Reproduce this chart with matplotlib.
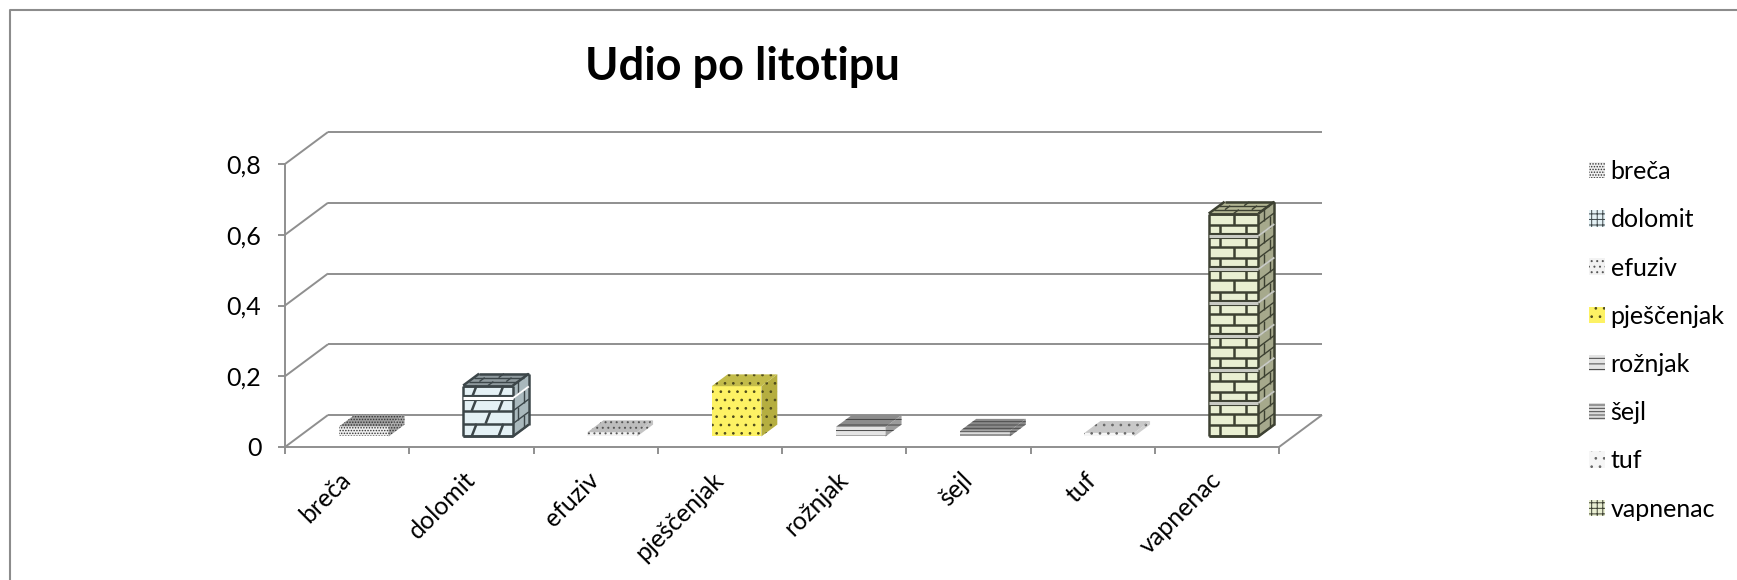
import matplotlib
matplotlib.use('Agg')
import matplotlib.pyplot as plt
from matplotlib.lines import Line2D
from matplotlib.patches import Patch, Polygon
from matplotlib.transforms import ScaledTranslation

plt.rcParams['font.family'] = ['Lato', 'DejaVu Sans']
plt.rcParams['hatch.linewidth'] = 0.7

categories = ['breča', 'dolomit', 'efuziv', 'pješčenjak', 'rožnjak', 'šejl', 'tuf', 'vapnenac']
values = [0.028, 0.144, 0.012, 0.142, 0.027, 0.016, 0.010, 0.63]
y_ticks = [0, 0.2, 0.4, 0.6, 0.8]
y_labels = ['0', '0,2', '0,4', '0,6', '0,8']
title = 'Udio po litotipu'

# front, side, top, line colour, hatch
styles = {
    'breča': ('#f0f0f0', '#a8a8a8', '#a0a0a0', '#333333', '......'),
    'dolomit': ('#e4f1f5', '#a9b8bc', '#8f9a9e', '#3c4649', None),
    'efuziv': ('#f2f2f2', '#c4c4c4', '#bdbdbd', '#555555', '...'),
    'pješčenjak': ('#fdf264', '#b5ae40', '#c2bb4a', '#4d4a1c', '..'),
    'rožnjak': ('#e4e4e4', '#9c9c9c', '#8c8c8c', '#444444', '---'),
    'šejl': ('#dcdcdc', '#8c8c8c', '#8a8a8a', '#4a4a4a', '-----'),
    'tuf': ('#f6f6f6', '#cfcfcf', '#c8c8c8', '#666666', '..'),
    'vapnenac': ('#e9efd2', '#a6a98c', '#b4b794', '#3d4132', None),
}

W, H = 1737, 580
AX_LEFT, AX_RIGHT, AX_TOP, AX_BOTTOM = 285, 1279, 164, 447
DX = 43 / 124.25   # depth offset, in categories
DY = 32 / 283 * 0.8   # depth offset, in value units
BAR_W = 0.40
D0, D1 = 0.33, 0.70   # bar depth range
ROW = 0.032   # brick row height
GREY = '#8f8f8f'

fig = plt.figure(figsize=(W / 100, H / 100), dpi=100)
ax = fig.add_axes([AX_LEFT / W, 1 - AX_BOTTOM / H, (AX_RIGHT - AX_LEFT) / W, (AX_BOTTOM - AX_TOP) / H])
ax.set_xlim(0, len(categories))
ax.set_ylim(0, 0.8)
ax.patch.set_alpha(0)


def proj(x, v, d):
    # oblique projection: depth d from 0 (front) to 1 (back wall)
    return x + d * DX, v + d * DY


def face(pts, color, z, hatch=None, edge=None):
    ax.add_patch(Polygon([proj(*p) for p in pts], closed=True, facecolor=color, hatch=hatch,
                         edgecolor=edge if hatch else color, linewidth=0, zorder=z, clip_on=False))


def seg(a, b, color, lw, z):
    pa, pb = proj(*a), proj(*b)
    ax.plot([pa[0], pb[0]], [pa[1], pb[1]], color=color, lw=lw, zorder=z, clip_on=False,
            solid_capstyle='butt')


def bricks(x0, x1, top, line, slant=0.0, gap=None):
    n = int(round(top / ROW))
    rows = [i * top / n for i in range(n + 1)]
    w = x1 - x0
    z = 5
    for i in range(n):
        r0, r1 = rows[i], rows[i + 1]
        cuts = [0.5] if i % 3 == 1 else [0.22, 0.76]
        for c in cuts:
            seg((x0 + (c - slant) * w, r0, D0), (x0 + (c + slant) * w, r1, D0), line, 1.8, z)
        # side face, short joints
        dm = D0 + (D1 - D0) * (0.35 if i % 2 else 0.7)
        seg((x1, r0, dm), (x1, r1, dm), line, 1.0, z)
    for i, r in enumerate(rows):
        seg((x0, r, D0), (x1, r, D0), line, 1.8, z)
        seg((x1, r, D0), (x1, r, D1), line, 1.0, z)
        if gap and i % 3 == 0 and 0 < i < n:
            # pale seam between repeats of the pattern, dark edge on both sides
            seg((x0, r, D0), (x1, r, D0), line, 4.4, z)
            seg((x0, r, D0), (x1, r, D0), gap, 2.2, z + 3)
            seg((x1, r, D0), (x1, r, D1), gap, 1.4, z + 3)
    # top face
    for d in (D0 + (D1 - D0) / 3, D0 + 2 * (D1 - D0) / 3):
        seg((x0, top, d), (x1, top, d), line, 1.0, z)
    for c, a, b in ((0.5, 0, 1 / 3), (0.22, 1 / 3, 2 / 3), (0.76, 1 / 3, 2 / 3), (0.5, 2 / 3, 1)):
        dd = D1 - D0
        seg((x0 + c * w, top, D0 + a * dd), (x0 + c * w, top, D0 + b * dd), line, 1.0, z)
    for p, q in (((x0, 0, D0), (x1, 0, D0)), ((x0, 0, D0), (x0, top, D0)), ((x1, 0, D0), (x1, top, D0)),
                 ((x0, top, D0), (x1, top, D0)), ((x1, 0, D1), (x1, top, D1)), ((x1, 0, D0), (x1, 0, D1)),
                 ((x0, top, D0), (x0, top, D1)), ((x1, top, D0), (x1, top, D1)), ((x0, top, D1), (x1, top, D1))):
        seg(p, q, line, 1.8, z + 2)


# walls and floor
for t in y_ticks:
    seg((0, t, 0), (0, t, 1), GREY, 1.4, 1)
    seg((0, t, 1), (len(categories), t, 1), GREY, 1.4, 1)
seg((len(categories), 0, 0), (len(categories), 0, 1), GREY, 1.4, 1)

for i, (name, val) in enumerate(zip(categories, values)):
    front, side, top_c, line, hatch = styles[name]
    x0 = i + 0.5 - BAR_W / 2 + 0.02
    x1 = x0 + BAR_W
    bar = ax.bar(x0 + BAR_W / 2, val, BAR_W, bottom=D0 * DY, color=front, zorder=3, clip_on=False,
                 hatch=hatch, edgecolor=line if hatch else front, linewidth=0)
    # the bar's own front face is shifted along the depth axis
    for b in bar:
        b.set_x(x0 + D0 * DX)
    face([(x1, 0, D0), (x1, 0, D1), (x1, val, D1), (x1, val, D0)], side, 3, hatch, line)
    face([(x0, val, D0), (x1, val, D0), (x1, val, D1), (x0, val, D1)], top_c, 3, hatch, line)
    if name == 'vapnenac':
        bricks(x0, x1, val, line, gap='#c9cbc4')
    if name == 'dolomit':
        bricks(x0, x1, val, line, slant=0.05, gap='#ffffff')

ax.spines[['top', 'right']].set_visible(False)
ax.spines[['left', 'bottom']].set_color(GREY)
ax.spines[['left', 'bottom']].set_linewidth(1.4)
ax.set_yticks(y_ticks, y_labels, fontsize=18, color='black')
ax.tick_params(axis='y', length=5, width=1.4, color=GREY, pad=12)
ax.set_xticks(range(len(categories) + 1), [''] * (len(categories) + 1))
ax.tick_params(axis='x', which='major', length=5, width=1.4, color=GREY)
ax.set_xticks([i + 0.5 for i in range(len(categories))], categories, minor=True, rotation=45, ha='right',
              rotation_mode='anchor', fontsize=18)
ax.tick_params(axis='x', which='minor', length=0, pad=15)
shift = ScaledTranslation(-8 / 100, 0, fig.dpi_scale_trans)
for label in ax.get_xticklabels(minor=True):
    label.set_transform(label.get_transform() + shift)

fig.text(742 / W, 1 - 67 / H, title, fontsize=32.5, fontweight='bold', ha='center', va='center')

# chart frame, open on the right and at the bottom
fig.add_artist(Line2D([9.5 / W, 9.5 / W, 1], [0, 1 - 10 / H, 1 - 10 / H], color='#8c8c8c', lw=1.5))

handles = []
for name in categories:
    front, side, top_c, line, hatch = styles[name]
    if name in ('vapnenac', 'dolomit'):
        hatch = '+++'
    handles.append(Patch(facecolor=front, edgecolor=line, hatch=hatch, linewidth=0))
fig.legend(handles, categories, loc='upper left', bbox_to_anchor=(1589 / W, 1 - 160 / H), frameon=False,
           fontsize=18, borderpad=0, borderaxespad=0, handlelength=0.64, handleheight=0.64,
           handletextpad=0.22, labelspacing=1.01)

fig.savefig('out.png', dpi=100)
